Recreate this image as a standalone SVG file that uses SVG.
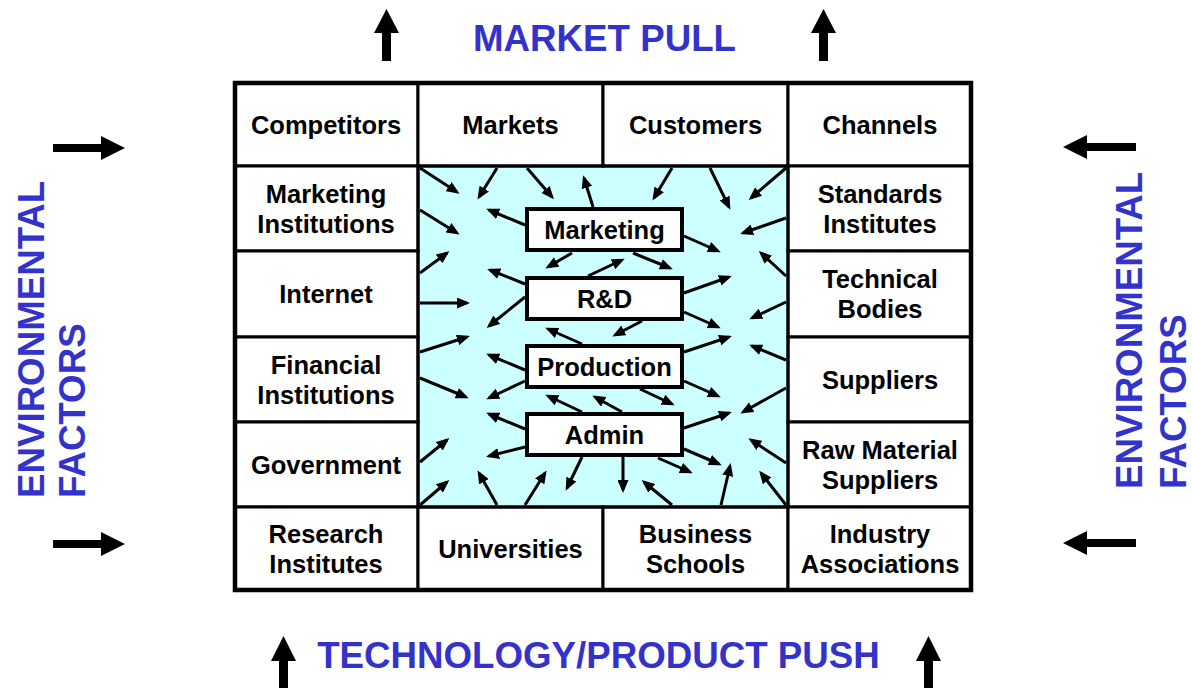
<svg xmlns="http://www.w3.org/2000/svg" width="1192" height="688" viewBox="0 0 1192 688">
<style>
.cell{fill:#ffffff;stroke:#000;stroke-width:3}
.lbl{font-family:"Liberation Sans",Arial,sans-serif;font-weight:bold;font-size:25.5px;fill:#000;text-anchor:middle}
.title{font-family:"Liberation Sans",Arial,sans-serif;font-weight:bold;font-size:36.7px;fill:#3333cc}
.box{fill:#ffffff;stroke:#000;stroke-width:4}
.ar{stroke:#000;stroke-width:3;fill:none;marker-end:url(#ah)}
.big{fill:#000}
</style>
<defs>
<marker id="ah" viewBox="0 0 13 11" markerWidth="13" markerHeight="11" refX="10" refY="5.5" orient="auto" markerUnits="userSpaceOnUse">
<path d="M0,0 L13,5.5 L0,11 z" fill="#000"/>
</marker>
</defs>
<rect width="1192" height="688" fill="#ffffff"/>

<g id="titles">
<text class="title" x="604.5" y="51" text-anchor="middle">MARKET PULL</text>
<text class="title" x="598.5" y="668" text-anchor="middle">TECHNOLOGY/PRODUCT PUSH</text>
<text class="title" transform="translate(44,498) rotate(-90)">ENVIRONMENTAL</text>
<text class="title" transform="translate(85,498) rotate(-90)">FACTORS</text>
<text class="title" transform="translate(1142,489) rotate(-90)">ENVIRONMENTAL</text>
<text class="title" transform="translate(1186,489) rotate(-90)">FACTORS</text>
</g>

<g id="big-arrows">
<polygon class="big" points="382,61 391,61 391,33 399,33 386.5,9 374,33 382,33"/>
<polygon class="big" points="819,61 828,61 828,33 836,33 823.5,9 811,33 819,33"/>
<polygon class="big" points="279,688 288,688 288,661 296,661 283.5,636 271,661 279,661"/>
<polygon class="big" points="924,688 933,688 933,661 941,661 928.5,636 916,661 924,661"/>
<polygon class="big" points="53,144 101,144 101,136 125,148 101,160 101,152 53,152"/>
<polygon class="big" points="53,540 101,540 101,532 125,544 101,556 101,548 53,548"/>
<polygon class="big" points="1136,143 1087,143 1087,135 1063,147 1087,159 1087,151 1136,151"/>
<polygon class="big" points="1136,539 1087,539 1087,531 1063,543 1087,555 1087,547 1136,547"/>
</g>

<g id="core">
<rect x="418" y="166" width="370" height="341" fill="#ccffff"/>
</g>

<g id="competitors"><rect class="cell" x="235" y="83" width="183" height="83"/><text class="lbl" x="326" y="133.5">Competitors</text></g>
<g id="markets"><rect class="cell" x="418" y="83" width="185" height="83"/><text class="lbl" x="510.5" y="133.5">Markets</text></g>
<g id="customers"><rect class="cell" x="603" y="83" width="185" height="83"/><text class="lbl" x="695.5" y="133.5">Customers</text></g>
<g id="channels"><rect class="cell" x="788" y="83" width="183" height="83"/><text class="lbl" x="880" y="133.5">Channels</text></g>

<g id="marketing-institutions"><rect class="cell" x="235" y="166" width="183" height="85"/><text class="lbl" x="326" y="203">Marketing</text><text class="lbl" x="326" y="233">Institutions</text></g>
<g id="internet"><rect class="cell" x="235" y="251" width="183" height="86"/><text class="lbl" x="326" y="303">Internet</text></g>
<g id="financial-institutions"><rect class="cell" x="235" y="337" width="183" height="85"/><text class="lbl" x="326" y="373.5">Financial</text><text class="lbl" x="326" y="403.5">Institutions</text></g>
<g id="government"><rect class="cell" x="235" y="422" width="183" height="85"/><text class="lbl" x="326" y="473.5">Government</text></g>

<g id="standards-institutes"><rect class="cell" x="788" y="166" width="183" height="85"/><text class="lbl" x="880" y="203">Standards</text><text class="lbl" x="880" y="233">Institutes</text></g>
<g id="technical-bodies"><rect class="cell" x="788" y="251" width="183" height="86"/><text class="lbl" x="880" y="288">Technical</text><text class="lbl" x="880" y="318">Bodies</text></g>
<g id="suppliers"><rect class="cell" x="788" y="337" width="183" height="85"/><text class="lbl" x="880" y="388.5">Suppliers</text></g>
<g id="raw-material-suppliers"><rect class="cell" x="788" y="422" width="183" height="85"/><text class="lbl" x="880" y="458.5">Raw Material</text><text class="lbl" x="880" y="488.5">Suppliers</text></g>

<g id="research-institutes"><rect class="cell" x="235" y="507" width="183" height="83"/><text class="lbl" x="326" y="542.5">Research</text><text class="lbl" x="326" y="572.5">Institutes</text></g>
<g id="universities"><rect class="cell" x="418" y="507" width="185" height="83"/><text class="lbl" x="510.5" y="557.5">Universities</text></g>
<g id="business-schools"><rect class="cell" x="603" y="507" width="185" height="83"/><text class="lbl" x="695.5" y="542.5">Business</text><text class="lbl" x="695.5" y="572.5">Schools</text></g>
<g id="industry-associations"><rect class="cell" x="788" y="507" width="183" height="83"/><text class="lbl" x="880" y="542.5">Industry</text><text class="lbl" x="880" y="572.5">Associations</text></g>

<g id="frame"><rect x="235" y="83" width="736" height="507" fill="none" stroke="#000" stroke-width="4.5"/><rect x="418" y="166" width="370" height="341" fill="none" stroke="#000" stroke-width="3"/></g>

<g id="connectors">
<line class="ar" x1="420" y1="168" x2="457" y2="192"/>
<line class="ar" x1="497" y1="168" x2="479" y2="197"/>
<line class="ar" x1="527" y1="168" x2="552" y2="197"/>
<line class="ar" x1="593" y1="207" x2="584" y2="178"/>
<line class="ar" x1="525" y1="225" x2="489" y2="210"/>
<line class="ar" x1="420" y1="210" x2="457" y2="233"/>
<line class="ar" x1="420" y1="273" x2="447" y2="253"/>
<line class="ar" x1="572" y1="253" x2="548" y2="267"/>
<line class="ar" x1="525" y1="284" x2="490" y2="270"/>
<line class="ar" x1="672" y1="168" x2="654" y2="198"/>
<line class="ar" x1="710" y1="168" x2="729" y2="207"/>
<line class="ar" x1="786" y1="168" x2="751" y2="198"/>
<line class="ar" x1="684" y1="236" x2="718" y2="251"/>
<line class="ar" x1="786" y1="218" x2="743" y2="233"/>
<line class="ar" x1="786" y1="276" x2="761" y2="253"/>
<line class="ar" x1="633" y1="253" x2="670" y2="268"/>
<line class="ar" x1="588" y1="276" x2="622" y2="260"/>
<line class="ar" x1="684" y1="293" x2="729" y2="277"/>
<line class="ar" x1="684" y1="312" x2="718" y2="327"/>
<line class="ar" x1="786" y1="302" x2="752" y2="318"/>
<line class="ar" x1="642" y1="321" x2="615" y2="335"/>
<line class="ar" x1="684" y1="352" x2="729" y2="337"/>
<line class="ar" x1="786" y1="360" x2="752" y2="346"/>
<line class="ar" x1="684" y1="381" x2="718" y2="396"/>
<line class="ar" x1="786" y1="388" x2="743" y2="412"/>
<line class="ar" x1="420" y1="303" x2="467" y2="303"/>
<line class="ar" x1="525" y1="297" x2="489" y2="326"/>
<line class="ar" x1="420" y1="352" x2="467" y2="337"/>
<line class="ar" x1="582" y1="344" x2="548" y2="329"/>
<line class="ar" x1="525" y1="370" x2="489" y2="355"/>
<line class="ar" x1="420" y1="378" x2="466" y2="397"/>
<line class="ar" x1="525" y1="381" x2="489" y2="398"/>
<line class="ar" x1="582" y1="412" x2="548" y2="396"/>
<line class="ar" x1="622" y1="412" x2="595" y2="397"/>
<line class="ar" x1="640" y1="389" x2="672" y2="404"/>
<line class="ar" x1="525" y1="429" x2="489" y2="414"/>
<line class="ar" x1="684" y1="428" x2="729" y2="413"/>
<line class="ar" x1="525" y1="447" x2="489" y2="456"/>
<line class="ar" x1="420" y1="462" x2="447" y2="440"/>
<line class="ar" x1="684" y1="449" x2="719" y2="464"/>
<line class="ar" x1="658" y1="458" x2="690" y2="472"/>
<line class="ar" x1="582" y1="457" x2="567" y2="488"/>
<line class="ar" x1="623" y1="457" x2="623" y2="490"/>
<line class="ar" x1="786" y1="463" x2="751" y2="440"/>
<line class="ar" x1="420" y1="505" x2="447" y2="482"/>
<line class="ar" x1="497" y1="505" x2="479" y2="473"/>
<line class="ar" x1="525" y1="505" x2="545" y2="473"/>
<line class="ar" x1="672" y1="505" x2="644" y2="482"/>
<line class="ar" x1="721" y1="505" x2="730" y2="466"/>
<line class="ar" x1="786" y1="505" x2="761" y2="473"/>
</g>

<g id="marketing"><rect class="box" x="527" y="209" width="155" height="41"/><text class="lbl" x="604.5" y="238.5">Marketing</text></g>
<g id="rnd"><rect class="box" x="527" y="278" width="155" height="41"/><text class="lbl" x="604.5" y="307.5">R&amp;D</text></g>
<g id="production"><rect class="box" x="527" y="346" width="155" height="41"/><text class="lbl" x="604.5" y="375.5">Production</text></g>
<g id="admin"><rect class="box" x="527" y="414" width="155" height="41"/><text class="lbl" x="604.5" y="443.5">Admin</text></g>
</svg>
